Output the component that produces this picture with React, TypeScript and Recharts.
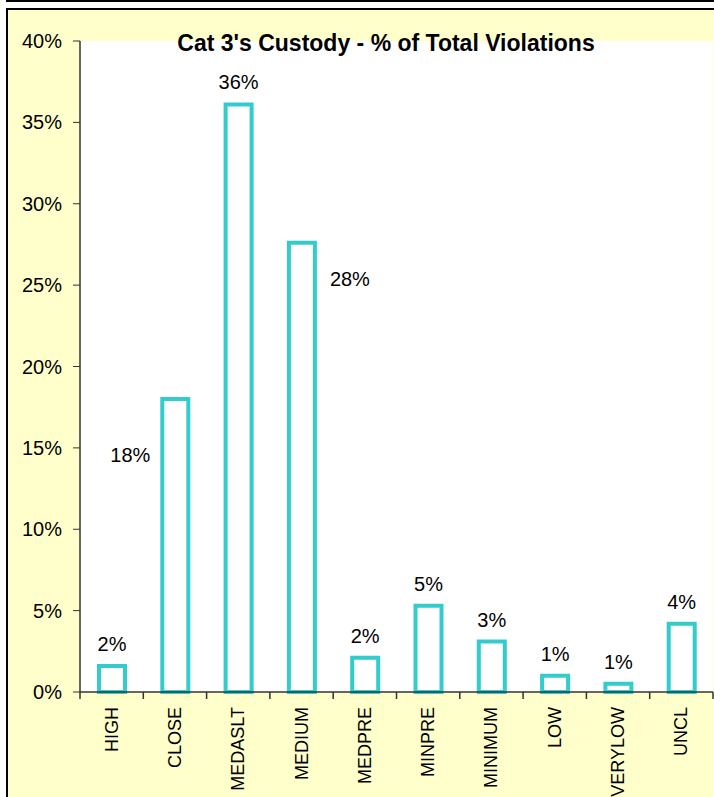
import React from 'react';
import { BarChart, Bar, XAxis, YAxis, CartesianGrid, LabelList } from 'recharts';

const categories = ['HIGH', 'CLOSE', 'MEDASLT', 'MEDIUM', 'MEDPRE', 'MINPRE', 'MINIMUM', 'LOW', 'VERYLOW', 'UNCL'];
const violationPct = [1.6, 18.0, 36.1, 27.6, 2.1, 5.3, 3.1, 1.0, 0.5, 4.2];
const yTicks = [0, 5, 10, 15, 20, 25, 30, 35, 40];

const data = categories.map((name, i) => ({ name, value: violationPct[i] }));

const FONT = 'Arial, "Liberation Sans", sans-serif';
const TEAL = '#33CCCC';
const YELLOW = '#FFFFCC';
const AXIS = '#333';

// where Excel put a few of the data labels (offset from bar centre / bar top)
const labelOffsets: Record<string, { dx: number; dy: number }> = {
  CLOSE: { dx: -45, dy: 56 },
  MEDIUM: { dx: 48, dy: 36 },
};

function BarValueLabel(props: any) {
  const { x, y, width, value, index } = props;
  const off = labelOffsets[categories[index]] || { dx: 0, dy: -22 };
  return (
    <text
      x={x + width / 2 + off.dx}
      y={y + off.dy}
      textAnchor="middle"
      dominantBaseline="central"
      fontSize={20}
      fontFamily={FONT}
      fill="#000"
    >
      {Math.round(value) + '%'}
    </text>
  );
}

// category label plus Excel-style tick marks between the categories
function CategoryTick(props: any) {
  const { x, y, payload, index, width } = props;
  const band = (width || 633) / categories.length;
  const top = y - 7;
  const left = x - band / 2;
  const right = x + band / 2;
  return (
    <g>
      <line x1={left} y1={top} x2={left} y2={y} stroke={AXIS} strokeWidth={1.5} />
      {index === categories.length - 1 && (
        <line x1={right} y1={top} x2={right} y2={y} stroke={AXIS} strokeWidth={1.5} />
      )}
      <text
        x={x}
        y={y + 8}
        transform={`rotate(-90, ${x}, ${y + 8})`}
        textAnchor="end"
        dominantBaseline="central"
        fontSize={18}
        fontFamily={FONT}
        fill="#000"
      >
        {payload.value}
      </text>
    </g>
  );
}

export default function App() {
  return (
    <div style={{ position: 'absolute', left: 0, top: 0, width: 714, height: 797, overflow: 'hidden', background: '#fff' }}>
      <div
        style={{
          position: 'absolute', left: 6, top: -20, width: 800, height: 22,
          boxSizing: 'border-box', border: '2px solid #000',
        }}
      />
      <div
        style={{
          position: 'absolute', left: 6, top: 8, width: 800, height: 820,
          boxSizing: 'border-box', border: '2px solid #000', background: YELLOW,
        }}
      />
      <div style={{ position: 'absolute', left: 0, top: 0 }}>
        <BarChart
          width={714}
          height={797}
          data={data}
          margin={{ top: 41, right: 1, bottom: 0, left: 10 }}
          barSize={26}
        >
          <CartesianGrid horizontal={false} vertical={false} fill="#FFFFFF" />
          <XAxis
            dataKey="name"
            height={105}
            tickSize={7}
            tickMargin={0}
            tickLine={false}
            axisLine={{ stroke: AXIS, strokeWidth: 1.5 }}
            interval={0}
            tick={<CategoryTick />}
          />
          <YAxis
            domain={[0, 40]}
            ticks={yTicks}
            width={70}
            tickSize={7}
            tickMargin={11}
            tickFormatter={(v: number) => v + '%'}
            tick={{ fontSize: 20, fontFamily: FONT, fill: '#000' }}
            stroke={AXIS}
            axisLine={{ stroke: AXIS, strokeWidth: 1.5 }}
          />
          <Bar
            dataKey="value"
            fill="#FFFFFF"
            stroke={TEAL}
            strokeWidth={4}
            isAnimationActive={false}
          >
            <LabelList dataKey="value" content={<BarValueLabel />} />
          </Bar>
        </BarChart>
      </div>
      <div
        style={{
          position: 'absolute', left: 0, top: 30, width: 772, textAlign: 'center',
          fontFamily: FONT, fontWeight: 'bold', fontSize: 23, lineHeight: '26px', color: '#000',
        }}
      >
        Cat 3's Custody - % of Total Violations
      </div>
    </div>
  );
}
